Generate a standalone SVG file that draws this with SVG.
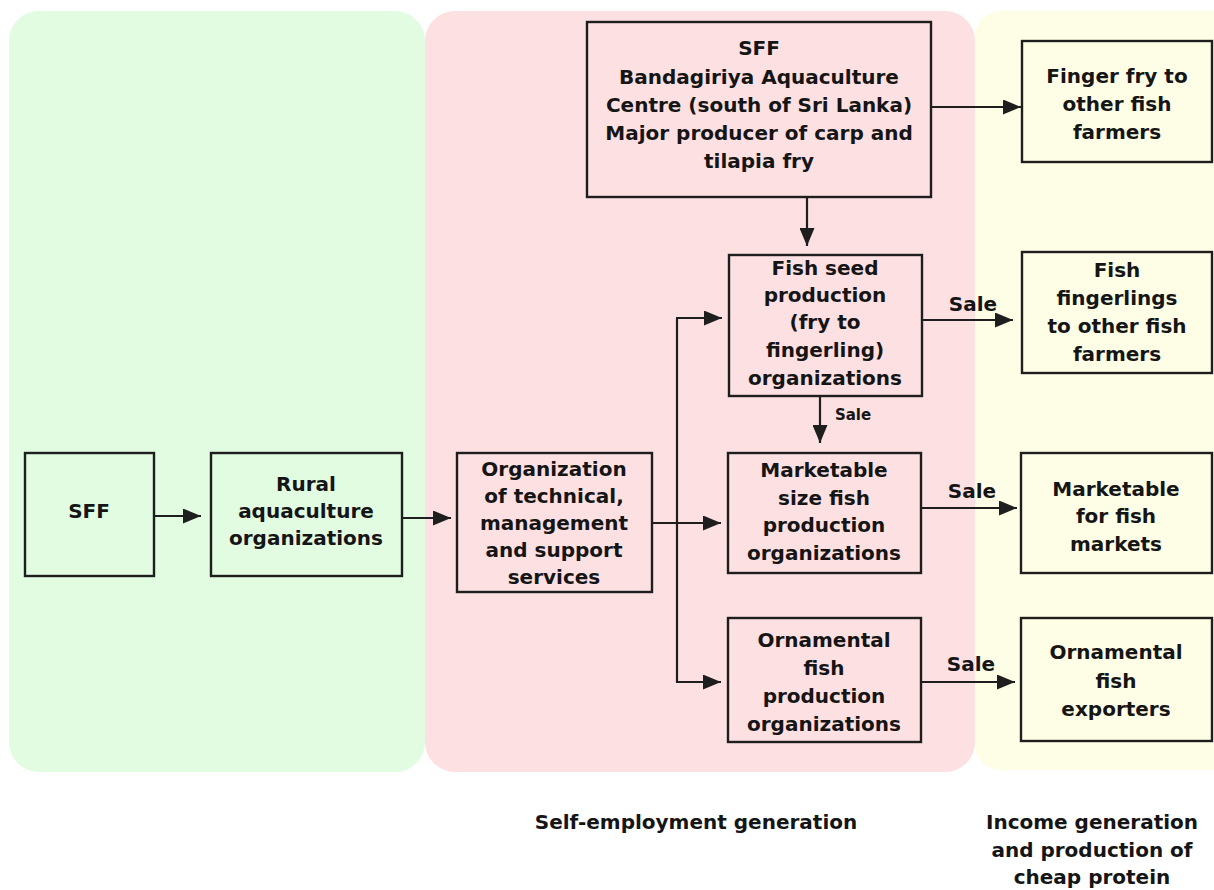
<svg xmlns="http://www.w3.org/2000/svg" width="1214" height="890" viewBox="0 0 1214 890">
<style>
.t{font-family:"DejaVu Sans","Liberation Sans",sans-serif;font-weight:bold;font-size:20px;fill:#151515;text-anchor:middle}
.s{font-size:15px}
.box{fill:none;stroke:#1e1e1e;stroke-width:2.4}
.c{fill:none;stroke:#1e1e1e;stroke-width:2.2}
</style>
<defs>
<marker id="ah" viewBox="0 0 18 15" refX="18" refY="7.5" markerWidth="18" markerHeight="15" markerUnits="userSpaceOnUse" orient="auto">
<path d="M0,0 L18,7.5 L0,15 Z" fill="#1e1e1e"/>
</marker>
</defs>
<rect width="1214" height="890" fill="#ffffff"/>
<g id="panels">
<rect x="9" y="11" width="416" height="761" rx="30" fill="#e2fce2"/>
<rect x="425" y="11" width="550" height="761" rx="30" fill="#fde0e1"/>
<rect x="975" y="11" width="270" height="759" rx="26" fill="#fefee6"/>
</g>
<g id="connectors">
<line class="c" x1="154" y1="516" x2="201" y2="516" marker-end="url(#ah)"/>
<line class="c" x1="402" y1="518" x2="451" y2="518" marker-end="url(#ah)"/>
<line class="c" x1="652" y1="523" x2="721" y2="523" marker-end="url(#ah)"/>
<polyline class="c" points="677,318 677,682 721,682" marker-end="url(#ah)"/>
<line class="c" x1="676" y1="318" x2="722" y2="318" marker-end="url(#ah)"/>
<line class="c" x1="807" y1="197" x2="807" y2="246" marker-end="url(#ah)"/>
<line class="c" x1="931" y1="107" x2="1021" y2="107" marker-end="url(#ah)"/>
<line class="c" x1="922" y1="320" x2="1013" y2="320" marker-end="url(#ah)"/>
<line class="c" x1="820" y1="396" x2="820" y2="443" marker-end="url(#ah)"/>
<line class="c" x1="921" y1="508" x2="1017" y2="508" marker-end="url(#ah)"/>
<line class="c" x1="921" y1="682" x2="1015" y2="682" marker-end="url(#ah)"/>
<text class="t" x="973" y="311">Sale</text>
<text class="t s" x="853" y="420">Sale</text>
<text class="t" x="972" y="498">Sale</text>
<text class="t" x="971" y="671">Sale</text>
</g>
<g id="sff">
<rect class="box" x="25" y="453" width="129" height="123"/>
<text class="t" x="89" y="518">SFF</text>
</g>
<g id="rural">
<rect class="box" x="211" y="453" width="191" height="123"/>
<text class="t" x="306" y="491">Rural</text>
<text class="t" x="306" y="518">aquaculture</text>
<text class="t" x="306" y="545">organizations</text>
</g>
<g id="org">
<rect class="box" x="457" y="453" width="195" height="139"/>
<text class="t" x="554" y="476">Organization</text>
<text class="t" x="554" y="503">of technical,</text>
<text class="t" x="554" y="530">management</text>
<text class="t" x="554" y="557">and support</text>
<text class="t" x="554" y="584">services</text>
</g>
<g id="bandagiriya">
<rect class="box" x="587" y="22" width="344" height="175"/>
<text class="t" x="759" y="55">SFF</text>
<text class="t" x="759" y="84">Bandagiriya Aquaculture</text>
<text class="t" x="759" y="112">Centre (south of Sri Lanka)</text>
<text class="t" x="759" y="140">Major producer of carp and</text>
<text class="t" x="759" y="168">tilapia fry</text>
</g>
<g id="fishseed">
<rect class="box" x="729" y="255" width="193" height="141"/>
<text class="t" x="825" y="275">Fish seed</text>
<text class="t" x="825" y="302">production</text>
<text class="t" x="825" y="329">(fry to</text>
<text class="t" x="825" y="357">fingerling)</text>
<text class="t" x="825" y="385">organizations</text>
</g>
<g id="marketable">
<rect class="box" x="728" y="453" width="193" height="120"/>
<text class="t" x="824" y="477">Marketable</text>
<text class="t" x="824" y="505">size fish</text>
<text class="t" x="824" y="532">production</text>
<text class="t" x="824" y="560">organizations</text>
</g>
<g id="ornamental">
<rect class="box" x="728" y="618" width="193" height="124"/>
<text class="t" x="824" y="647">Ornamental</text>
<text class="t" x="824" y="675">fish</text>
<text class="t" x="824" y="703">production</text>
<text class="t" x="824" y="731">organizations</text>
</g>
<g id="fingerfry">
<rect class="box" x="1022" y="41" width="190" height="121"/>
<text class="t" x="1117" y="83">Finger fry to</text>
<text class="t" x="1117" y="111">other fish</text>
<text class="t" x="1117" y="139">farmers</text>
</g>
<g id="fingerlings">
<rect class="box" x="1022" y="252" width="190" height="121"/>
<text class="t" x="1117" y="277">Fish</text>
<text class="t" x="1117" y="305">fingerlings</text>
<text class="t" x="1117" y="333">to other fish</text>
<text class="t" x="1117" y="361">farmers</text>
</g>
<g id="markets">
<rect class="box" x="1021" y="453" width="191" height="120"/>
<text class="t" x="1116" y="496">Marketable</text>
<text class="t" x="1116" y="523">for fish</text>
<text class="t" x="1116" y="551">markets</text>
</g>
<g id="exporters">
<rect class="box" x="1021" y="618" width="191" height="123"/>
<text class="t" x="1116" y="659">Ornamental</text>
<text class="t" x="1116" y="688">fish</text>
<text class="t" x="1116" y="716">exporters</text>
</g>
<g id="captions">
<text class="t" x="696" y="829">Self-employment generation</text>
<text class="t" x="1092" y="829">Income generation</text>
<text class="t" x="1092" y="857">and production of</text>
<text class="t" x="1092" y="884">cheap protein</text>
</g>
</svg>
